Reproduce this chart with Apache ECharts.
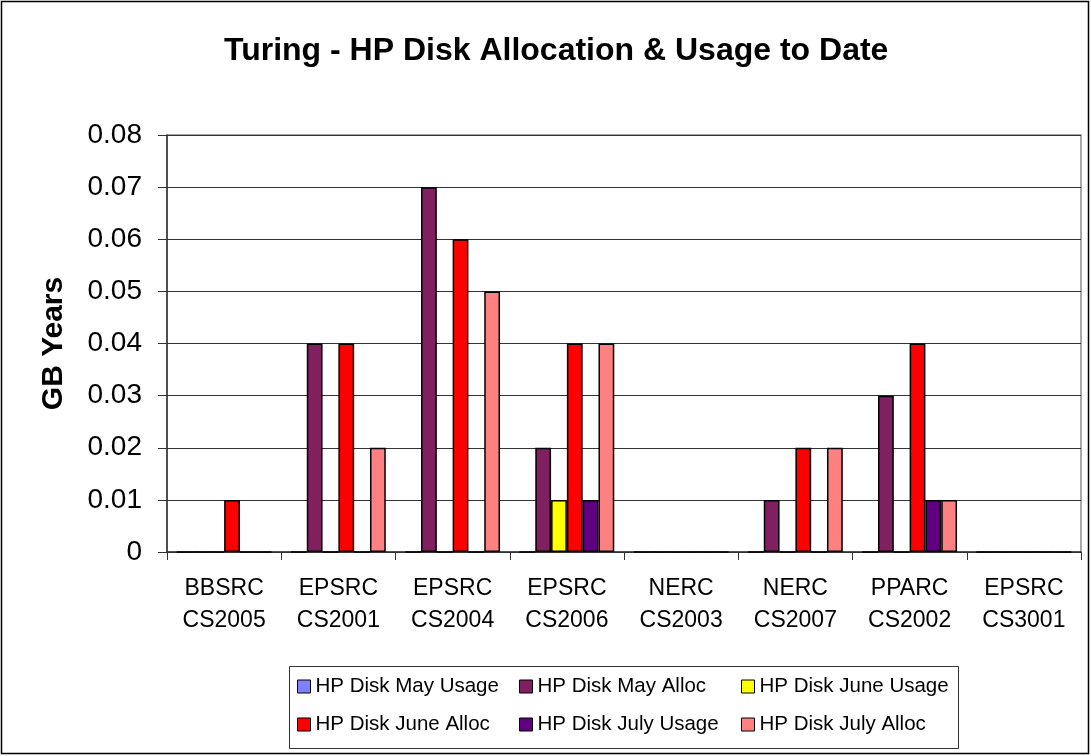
<!DOCTYPE html>
<html>
<head>
<meta charset="utf-8">
<script src="https://cdn.jsdelivr.net/npm/echarts@6/dist/echarts.min.js"></script>
<style>
    html, body {margin: 0; padding: 0; background: #fff;}
    #disk-chart {width: 1091px; height: 756px;}
</style>
</head>
<body>
<div id="disk-chart"></div>
<script>
//----------------------Data----------------------
let disk_categories = ["BBSRC\nCS2005", "EPSRC\nCS2001", "EPSRC\nCS2004", "EPSRC\nCS2006",
    "NERC\nCS2003", "NERC\nCS2007", "PPARC\nCS2002", "EPSRC\nCS3001"];
let may_usage = [0, 0, 0, 0, 0, 0, 0, 0];
let may_alloc = [0, 0.04, 0.07, 0.02, 0, 0.01, 0.03, 0];
let june_usage = [0, 0, 0, 0.01, 0, 0, 0, 0];
let june_alloc = [0.01, 0.04, 0.06, 0.04, 0, 0.02, 0.04, 0];
let july_usage = [0, 0, 0, 0.01, 0, 0, 0.01, 0];
let july_alloc = [0, 0.02, 0.05, 0.04, 0, 0.02, 0.01, 0];
let series_names = ["HP Disk May Usage", "HP Disk May Alloc", "HP Disk June Usage",
    "HP Disk June Alloc", "HP Disk July Usage", "HP Disk July Alloc"];
let series_values = [may_usage, may_alloc, june_usage, june_alloc, july_usage, july_alloc];
let series_colors = ["#8080ff", "#802060", "#ffff00", "#ff0000", "#600080", "#ff8080"];

// Get dom in html
let disk_chart = echarts.init(document.getElementById("disk-chart"));
let font_name = "'Liberation Sans', Arial, sans-serif";

//----------------------Series---------------------
let disk_series_list = [];
for (let i = 0; i < series_names.length; i++) {
    disk_series_list.push({
        name: series_names[i],
        type: 'bar',
        barGap: 0,
        barCategoryGap: '17%',
        itemStyle: {color: series_colors[i], borderColor: '#000', borderWidth: 1.5},
        data: series_values[i]
    });
}

//----------------------Legend----------------------
// three columns, two rows like the excel legend
let legend_left = [297, 519, 741];
let legend_top = [676, 714];
let disk_legend_list = [];
for (let i = 0; i < series_names.length; i++) {
    disk_legend_list.push({
        data: [series_names[i]],
        left: legend_left[i % 3],
        top: legend_top[Math.floor(i / 3)],
        padding: 0,
        icon: 'rect',
        itemWidth: 13,
        itemHeight: 13,
        itemStyle: {borderColor: '#000', borderWidth: 1},
        textStyle: {fontFamily: font_name, fontSize: 20.5, color: '#000'},
        selectedMode: false
    });
}

//------------------Generate Graph------------------
let disk_chart_option = {
    backgroundColor: '#fff',
    animation: false,
    title: {
        text: 'Turing - HP Disk Allocation & Usage to Date',
        left: 224,
        top: 35,
        padding: 0,
        textStyle: {fontFamily: font_name, fontSize: 32, fontWeight: 'bold', color: '#000'}
    },
    grid: {
        left: 167, right: 10, top: 135, bottom: 204,
        show: true, borderColor: '#8c8c8c', borderWidth: 1.5
    },
    legend: disk_legend_list,
    xAxis: {
        type: 'category',
        data: disk_categories,
        axisLine: {lineStyle: {color: '#333', width: 1.5}},
        axisTick: {show: true, length: 8, lineStyle: {color: '#333'}},
        axisLabel: {
            interval: 0, margin: 21, lineHeight: 32,
            fontFamily: font_name, fontSize: 23, color: '#000'
        }
    },
    yAxis: {
        type: 'value',
        min: 0, max: 0.08, interval: 0.01,
        name: 'GB Years',
        nameLocation: 'middle',
        nameGap: 98,
        nameTextStyle: {fontFamily: font_name, fontSize: 30, fontWeight: 'bold', color: '#000'},
        axisLine: {show: true, lineStyle: {color: '#333', width: 1.5}},
        axisTick: {show: true, length: 9, lineStyle: {color: '#333'}},
        axisLabel: {margin: 25, fontFamily: font_name, fontSize: 28, color: '#000'},
        splitLine: {lineStyle: {color: '#333', width: 1}}
    },
    graphic: [
        // outer chart border
        {type: 'rect', shape: {x: 1.5, y: 1.5, width: 1087, height: 752},
            style: {fill: 'none', stroke: '#000', lineWidth: 1.5}, silent: true},
        // legend box
        {type: 'rect', shape: {x: 289.5, y: 666.5, width: 669, height: 82},
            style: {fill: 'none', stroke: '#333', lineWidth: 1}, silent: true, z: -1}
    ],
    series: disk_series_list
};
disk_chart.setOption(disk_chart_option, true);
</script>
</body>
</html>
